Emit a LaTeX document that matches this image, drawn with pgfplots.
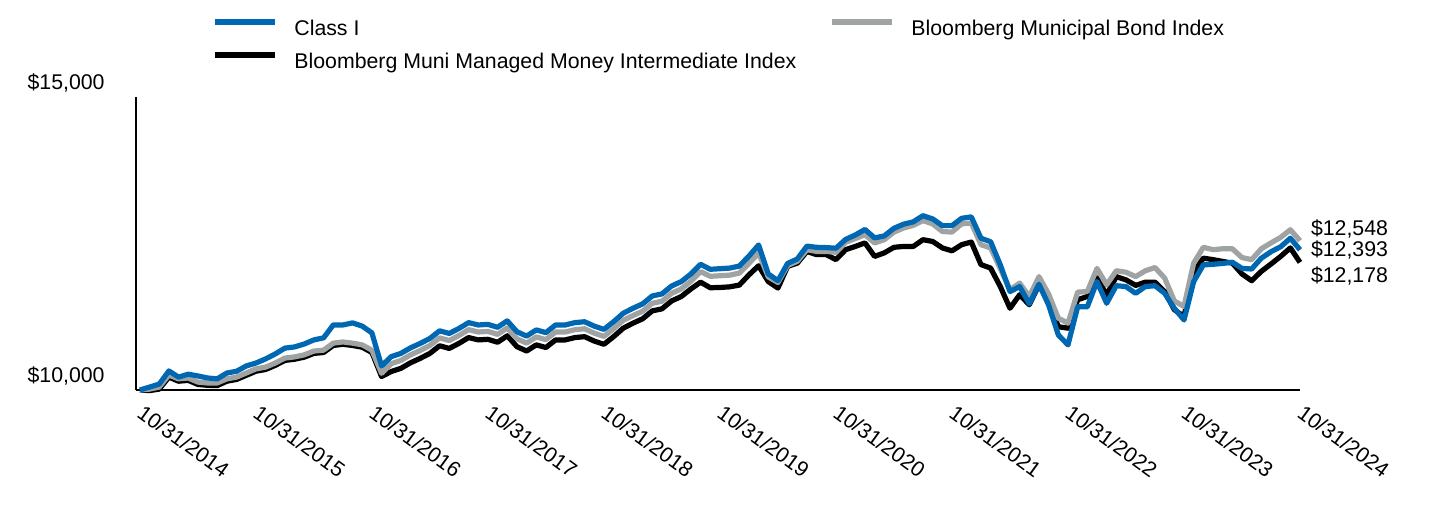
\documentclass[border=0pt]{standalone}
\usepackage{pgfplots}
\pgfplotsset{compat=1.18}
\usepackage{pgfplotstable}
\usepackage{fontspec}
\setmainfont{Liberation Sans}
\definecolor{clsblue}{RGB}{0,104,179}
\definecolor{idxgray}{RGB}{160,163,163}

\pgfplotstableread{
m cls mun mmi
0 10000 10000 10000
1 10050 10015 9990
2 10100 10050 10015
3 10325 10255 10220
4 10220 10190 10150
5 10270 10205 10165
6 10240 10135 10095
7 10205 10120 10080
8 10190 10120 10075
9 10290 10190 10150
10 10320 10220 10180
11 10410 10290 10250
12 10460 10360 10320
13 10530 10390 10350
14 10615 10460 10420
15 10715 10545 10505
16 10735 10565 10525
17 10785 10600 10560
18 10855 10665 10625
19 10890 10680 10640
20 11110 10800 10760
21 11110 10820 10780
22 11145 10800 10760
23 11090 10770 10730
24 10975 10680 10640
25 10410 10285 10230
26 10570 10450 10315
27 10625 10505 10370
28 10720 10600 10465
29 10795 10675 10540
30 10880 10760 10625
31 11010 10890 10755
32 10965 10845 10710
33 11050 10930 10795
34 11150 11030 10895
35 11110 10990 10855
36 11120 11000 10865
37 11070 10950 10815
38 11180 11060 10925
39 10995 10875 10740
40 10920 10800 10665
41 11025 10905 10770
42 10980 10860 10725
43 11110 10990 10855
44 11110 10990 10855
45 11150 11030 10895
46 11165 11045 10910
47 11090 10970 10835
48 11035 10915 10780
49 11165 11045 10910
50 11310 11190 11055
51 11395 11270 11140
52 11470 11345 11215
53 11605 11480 11350
54 11640 11515 11385
55 11775 11650 11520
56 11850 11725 11595
57 11980 11855 11725
58 12145 12020 11840
59 12060 11940 11745
60 12070 11950 11750
61 12080 11960 11760
62 12115 11995 11790
63 12285 12160 11965
64 12475 12340 12120
65 11980 11930 11850
66 11865 11835 11740
67 12160 12125 12110
68 12235 12195 12165
69 12455 12395 12365
70 12435 12365 12310
71 12430 12365 12310
72 12420 12350 12225
73 12570 12520 12395
74 12645 12585 12450
75 12740 12650 12510
76 12595 12510 12280
77 12630 12565 12340
78 12760 12695 12435
79 12830 12765 12450
80 12870 12810 12450
81 12975 12890 12565
82 12920 12835 12535
83 12805 12705 12425
84 12805 12695 12375
85 12930 12835 12480
86 12955 12850 12525
87 12590 12480 12140
88 12530 12425 12080
89 12135 12070 11765
90 11680 11710 11395
91 11765 11825 11625
92 11470 11595 11455
93 11805 11935 11795
94 11450 11635 11510
95 10940 11225 11080
96 10770 11140 11055
97 11420 11670 11540
98 11420 11680 11595
99 11850 12075 11915
100 11480 11795 11625
101 11780 12035 11935
102 11765 12010 11880
103 11650 11935 11785
104 11765 12035 11840
105 11780 12090 11840
106 11650 11910 11680
107 11395 11520 11370
108 11195 11425 11255
109 11850 12165 12010
110 12135 12435 12250
111 12145 12395 12225
112 12160 12410 12195
113 12180 12410 12165
114 12075 12260 11980
115 12065 12225 11865
116 12250 12410 12025
117 12360 12510 12150
118 12445 12605 12280
119 12590 12735 12425
120 12393 12548 12178
}\data

\begin{document}
\fontsize{10.65}{12.8}\selectfont
\begin{tikzpicture}
\useasboundingbox (-68pt,-63pt) rectangle (652pt,195pt);
\begin{axis}[
  at={(0pt,0pt)}, anchor=south west,
  scale only axis, width=582pt, height=146.5pt,
  xmin=-0.4, xmax=120, ymin=10000, ymax=15000,
  clip=false,
  scaled y ticks=false, scaled x ticks=false,
  axis x line*=bottom, axis y line*=left,
  axis line style={-, line width=1pt, black},
  major tick length=0pt,
  xtick={0,12,24,36,48,60,72,84,96,108,120},
  xticklabels={10/31/2014,10/31/2015,10/31/2016,10/31/2017,10/31/2018,10/31/2019,10/31/2020,10/31/2021,10/31/2022,10/31/2023,10/31/2024},
  ytick={10000,15000},
  yticklabels={{\$10,000},{\$15,000}},
  xticklabel style={yshift=-6.5pt, xshift=2.5pt, rotate=-36, anchor=north west, inner sep=0pt},
  yticklabel style={anchor=east, inner sep=0pt, xshift=-15.5pt, yshift=7pt},
  legend columns=2,
  legend cell align=left,
  legend style={at={(0,1)}, anchor=north west, xshift=38pt, yshift=39pt,
    draw=none, fill=none, inner sep=0pt, row sep=6.4pt,
    nodes={inner sep=0pt, text height=7.8pt, text depth=2.2pt},
    /tikz/every odd column/.style={column sep=8pt},
    /tikz/every even column/.style={column sep=16.5pt}},
  legend image code/.code={\draw[#1] (0pt,3.6pt) -- (30pt,3.6pt);},
]
\addplot[black, line width=2.6pt, line join=round, forget plot] table[x=m, y=mmi]{\data};
\addplot[idxgray, line width=2.6pt, line join=round, forget plot] table[x=m, y=mun]{\data};
\addplot[clsblue, line width=2.6pt, line join=round, forget plot] table[x=m, y=cls]{\data};
\addlegendimage{clsblue, line width=3pt}
\addlegendentry{Class I}
\addlegendimage{idxgray, line width=3pt}
\addlegendentry{Bloomberg Municipal Bond Index}
\addlegendimage{black, line width=3pt}
\addlegendentry{Bloomberg Muni Managed Money Intermediate Index}
\node[anchor=west, inner sep=0pt] at (axis cs:121.1,12747) {\$12,548};
\node[anchor=west, inner sep=0pt] at (axis cs:121.1,12389) {\$12,393};
\node[anchor=west, inner sep=0pt] at (axis cs:121.1,11945) {\$12,178};
\end{axis}
\end{tikzpicture}
\end{document}
